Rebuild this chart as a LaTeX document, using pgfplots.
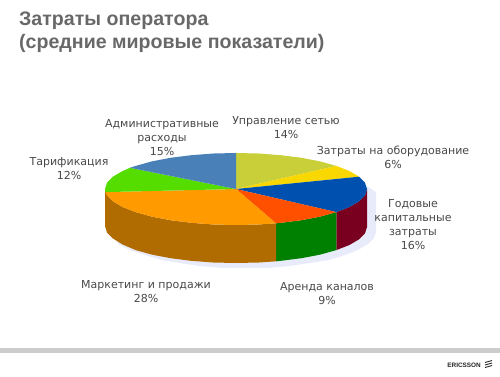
\documentclass[border=0pt]{standalone}
\usepackage{fontspec}
\setmainfont{DejaVu Sans}
\newfontfamily\titlefont{Liberation Sans}
\usepackage{pgfplots}
\pgfplotsset{compat=1.18}
\definecolor{cKhaki}{HTML}{C8CF38}
\definecolor{cYellow}{HTML}{F8D800}
\definecolor{cBlue}{HTML}{0050B0}
\definecolor{cRedO}{HTML}{FF5000}
\definecolor{cOrange}{HTML}{FF9A00}
\definecolor{cGreen}{HTML}{55DD00}
\definecolor{cSteel}{HTML}{4A80B8}
\definecolor{cDRed}{HTML}{7A0020}
\definecolor{cDGreen}{HTML}{008000}
\definecolor{cBrown}{HTML}{B06C00}
\definecolor{cShadow}{HTML}{E8ECFA}
\definecolor{cText}{HTML}{484848}
\definecolor{cTitle}{HTML}{686868}
\tikzset{lab/.style={text=cText, align=center, font=\fontsize{11}{14}\selectfont, inner sep=0pt}}
\begin{document}
\begin{tikzpicture}
\useasboundingbox (0,0) rectangle (500pt,376pt);
\begin{axis}[
  at={(0,0)}, anchor=south west,
  hide axis, scale only axis, width=500pt, height=376pt,
  xmin=0, xmax=500, ymin=0, ymax=376, y dir=reverse,
  clip=true,
]
% shadow
\addplot[fill=cShadow, draw=none] coordinates {(367,186)(376,192)(376,232)(374,238)(368,244)(358,250)(345,255)(329,260)(310,263)(290,266)(268,268)(245,268)(222,268)(200,266)(180,263)(161,260)(145,255)(130,250)(118,244)(114,232)};
% side walls
\addplot[fill=cDRed, draw=none] coordinates {(367,189)(365,195.3)(359.1,201.3)(349.4,207)(336.3,212.1)(336.3,250.1)(349.4,245)(359.1,239.3)(365,233.3)(367,227)};
\addplot[fill=cDGreen, draw=none] coordinates {(336.3,212.1)(320.2,216.6)(301.5,220.2)(280.8,222.8)(276,223.3)(276,261.3)(280.8,260.8)(301.5,258.2)(320.2,254.6)(336.3,250.1)};
\addplot[fill=cBrown, draw=none] coordinates {(276,223.3)(258.7,224.5)(236,225)(213.3,224.5)(191.2,222.8)(170.5,220.2)(151.8,216.6)(135.7,212.1)(122.6,207)(112.9,201.3)(107,195.3)(105,189)(105,226)(107,232.5)(112.9,238.5)(122.6,244.5)(135.7,250.1)(151.8,254.6)(170.5,258.2)(191.2,260.8)(213.3,262.5)(236,263)(258.7,262.5)(276,261.3)};
% top slices
\addplot[fill=cKhaki, draw=none] coordinates {(236,189)(236,153)(258.7,153.5)(280.8,155.2)(301.5,157.8)(320.2,161.4)(336.3,165.9)};
\addplot[fill=cYellow, draw=none] coordinates {(236,189)(336.3,165.9)(349.4,171)(359.1,176.7)};
\addplot[fill=cBlue, draw=none] coordinates {(236,189)(359.1,176.7)(365,182.7)(367,189)(365,195.3)(359.1,201.3)(349.4,207)(336.3,212.1)};
\addplot[fill=cRedO, draw=none] coordinates {(236,189)(336.3,212.1)(320.2,216.6)(301.5,220.2)(280.8,222.8)(276,223.3)};
\addplot[fill=cOrange, draw=none] coordinates {(236,189)(276,223.3)(258.7,224.5)(236,225)(213.3,224.5)(191.2,222.8)(170.5,220.2)(151.8,216.6)(135.7,212.1)(122.6,207)(112.9,201.3)(107,195.3)(105.5,192.1)};
\addplot[fill=cGreen, draw=none] coordinates {(236,189)(105.5,192.1)(105,189)(107,182.7)(112.9,176.7)(122.6,171)(130,167.8)};
\addplot[fill=cSteel, draw=none] coordinates {(236,189)(130,167.8)(135.7,165.9)(151.8,161.4)(170.5,157.8)(191.2,155.2)(213.3,153.5)(236,153)};
% bottom band
\addplot[fill=black!20, draw=none] coordinates {(0,348)(500,348)(500,353)(0,353)};
% logo stripes
\addplot[draw=black!85, line width=0.9pt] coordinates {(485,362.5)(492,360.5)};
\addplot[draw=black!85, line width=0.9pt] coordinates {(485,365)(492,363)};
\addplot[draw=black!85, line width=0.9pt] coordinates {(485,367.5)(492,365.5)};
% title
\node[anchor=west, text=cTitle, inner sep=0pt, font=\titlefont\bfseries\fontsize{19.6}{23.5}\selectfont, align=left] at (axis cs:19,32) {Затраты оператора\\(средние мировые показатели)};
% labels
\node[lab] at (axis cs:286,128) {Управление сетью\\14\%};
\node[lab] at (axis cs:393,157) {Затраты на оборудование\\6\%};
\node[lab] at (axis cs:413,225) {Годовые\\капитальные\\затраты\\16\%};
\node[lab] at (axis cs:327,294) {Аренда каналов\\9\%};
\node[lab] at (axis cs:146,292) {Маркетинг и продажи\\28\%};
\node[lab] at (axis cs:69,169) {Тарификация\\12\%};
\node[lab] at (axis cs:162,138) {Административные\\расходы\\15\%};
\node[anchor=east, inner sep=0pt, text=black!85, font=\titlefont\bfseries\fontsize{6.4}{7}\selectfont] at (axis cs:481,365) {ERICSSON};
\end{axis}
\end{tikzpicture}
\end{document}
